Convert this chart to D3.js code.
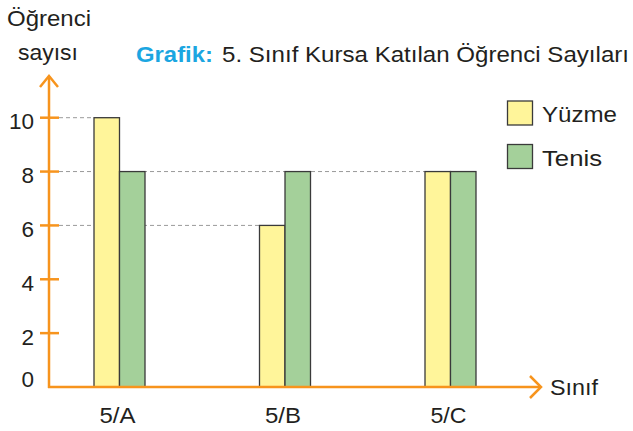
<!DOCTYPE html>
<html><head><meta charset="utf-8">
<script src="https://cdn.jsdelivr.net/npm/d3@7"></script>
<style>body{margin:0;background:#fff}svg{display:block}text{font-family:"Liberation Sans",Arial,sans-serif;fill:#231f20}</style>
</head><body><svg id="c" width="633" height="431"></svg>
<script>
const categories = ["5/A", "5/B", "5/C"];
const seriesNames = ["Yüzme", "Tenis"];
const yuzme = [10, 6, 8];
const tenis = [8, 8, 8];
const yTicks = [0, 2, 4, 6, 8, 10];
const colors = ["#fff59a", "#a4d09a"];

const svg = d3.select("#c");
const orange = "#f7941d";
const x0 = 49, baseY = 387;
const y = d3.scaleLinear().domain([0, 10]).range([baseY, 117.7]);
const xc = d3.scalePoint().domain(categories).range([119.5, 450.5]);
const xs = d3.scaleBand().domain(seriesNames).range([-25.5, 25.5]);
const series = [yuzme, tenis];

const data = [];
categories.forEach((c, i) => series.forEach((s, j) => data.push({c, s: seriesNames[j], v: s[i], j})));

function label(x, yy, txt, size, len, anchor) {
  const t = svg.append("text").attr("x", x).attr("y", yy).attr("font-size", size).text(txt);
  if (anchor) t.attr("text-anchor", anchor);
  if (len) t.attr("textLength", len).attr("lengthAdjust", "spacingAndGlyphs");
  return t;
}

// gridlines
const vals = Array.from(new Set(data.map(d => d.v)));
vals.forEach(v => {
  const xs2 = data.filter(d => d.v === v).map(d => xc(d.c) + xs(d.s));
  svg.append("line").attr("x1", x0 + 10).attr("x2", d3.max(xs2)).attr("y1", y(v)).attr("y2", y(v))
    .attr("stroke", "#9a9a9a").attr("stroke-width", 1).attr("stroke-dasharray", "4,3");
});

svg.append("g").selectAll("rect").data(data).join("rect")
  .attr("x", d => xc(d.c) + xs(d.s)).attr("width", xs.bandwidth())
  .attr("y", d => y(d.v)).attr("height", d => y(0) - y(d.v))
  .attr("fill", d => colors[d.j]).attr("stroke", "#3a3a3a").attr("stroke-width", 1.3);

// axes
svg.append("line").attr("x1", x0).attr("x2", x0).attr("y1", baseY + 1).attr("y2", 76).attr("stroke", orange).attr("stroke-width", 2.5);
svg.append("path").attr("d", `M${x0-9},87 L${x0},76 L${x0+9},87`).attr("fill", "none").attr("stroke", orange).attr("stroke-width", 2.5);
svg.append("line").attr("x1", x0 - 1).attr("x2", 541).attr("y1", baseY).attr("y2", baseY).attr("stroke", orange).attr("stroke-width", 2.5);
svg.append("path").attr("d", `M530,${baseY-11} L541,${baseY} L530,${baseY+11}`).attr("fill", "none").attr("stroke", orange).attr("stroke-width", 2.5);

yTicks.forEach(t => {
  if (t > 0) svg.append("line").attr("x1", x0 - 9).attr("x2", x0 + 10).attr("y1", y(t)).attr("y2", y(t)).attr("stroke", orange).attr("stroke-width", 2.5);
  label(34, t === 0 ? y(t) : y(t) + 11.5, t, 22.5, null, "end");
});

categories.forEach(c => label(xc(c) - 2, 423, c, 22.5, 36, "middle"));

label(550, 395, "Sınıf", 22.5, 48);
label(7, 26, "Öğrenci", 22.5, 84);
label(18, 60, "sayısı", 22.5, 60);

label(136, 62, "Grafik:", 22, 77).attr("font-weight", "bold").style("fill", "#1ba6e1");
label(222, 62, "5. Sınıf Kursa Katılan Öğrenci Sayıları", 22, 407);

seriesNames.forEach((s, i) => {
  const ly = 101 + i * 43.5;
  svg.append("rect").attr("x", 507.5).attr("y", ly).attr("width", 25).attr("height", 24)
    .attr("fill", colors[i]).attr("stroke", "#3a3a3a").attr("stroke-width", 1.3);
  label(542, ly + 21, s, 22.5, i === 0 ? 75 : 60);
});
</script></body></html>
